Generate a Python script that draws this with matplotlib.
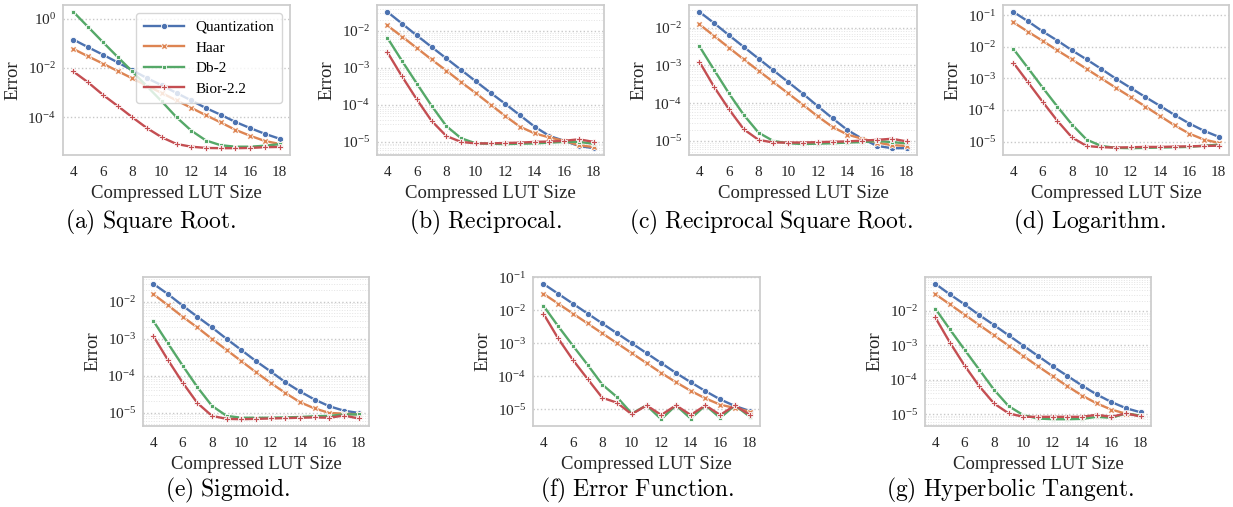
import numpy as np
import matplotlib
matplotlib.use("Agg")
import matplotlib.pyplot as plt
from matplotlib.ticker import LogLocator, NullLocator, FixedLocator, NullFormatter

plt.rcParams.update({
    "font.family": ["Liberation Serif", "DejaVu Serif"],
    "mathtext.fontset": "stix",
    "axes.edgecolor": "#cccccc",
    "axes.linewidth": 1.25,
    "xtick.major.size": 0,
    "ytick.major.size": 0,
    "xtick.minor.size": 0,
    "ytick.minor.size": 0,
    "xtick.color": "#262626",
    "ytick.color": "#262626",
})

# ---------------- data (values read as log10 of the error) ----------------
lut_size = [4, 5, 6, 7, 8, 9, 10, 11, 12, 13, 14, 15, 16, 17, 18]
methods = ["Quantization", "Haar", "Db-2", "Bior-2.2"]

sqrt_quant = [-0.85, -1.16, -1.46, -1.77, -2.09, -2.41, -2.70, -3.01, -3.31, -3.62, -3.89, -4.18, -4.43, -4.66, -4.86]
sqrt_haar = [-1.23, -1.53, -1.82, -2.12, -2.42, -2.72, -3.01, -3.31, -3.61, -3.91, -4.20, -4.50, -4.74, -4.95, -5.07]
sqrt_db2 = [0.27, -0.34, -0.95, -1.55, -2.14, -2.74, -3.35, -3.99, -4.53, -4.93, -5.12, -5.18, -5.18, -5.14, -5.08]
sqrt_bior = [-2.14, -2.58, -3.08, -3.53, -3.99, -4.43, -4.80, -5.07, -5.18, -5.23, -5.24, -5.24, -5.23, -5.20, -5.19]

recip_quant = [-1.48, -1.80, -2.12, -2.43, -2.74, -3.05, -3.36, -3.67, -3.97, -4.28, -4.59, -4.84, -4.97, -5.11, -5.17]
recip_haar = [-1.85, -2.15, -2.46, -2.77, -3.07, -3.38, -3.68, -3.99, -4.30, -4.59, -4.77, -4.88, -4.97, -5.09, -5.14]
recip_db2 = [-2.18, -2.81, -3.42, -4.02, -4.57, -4.90, -5.04, -5.05, -5.06, -5.05, -5.04, -5.02, -5.00, -5.00, -5.05]
recip_bior = [-2.57, -3.23, -3.85, -4.43, -4.84, -5.00, -5.04, -5.04, -5.03, -5.02, -5.00, -4.99, -4.97, -4.93, -5.00]

rsqrt_quant = [-1.58, -1.88, -2.20, -2.51, -2.82, -3.13, -3.44, -3.75, -4.08, -4.40, -4.71, -4.94, -5.13, -5.19, -5.19]
rsqrt_haar = [-1.91, -2.22, -2.53, -2.84, -3.14, -3.44, -3.74, -4.04, -4.35, -4.63, -4.83, -4.94, -5.04, -5.11, -5.13]
rsqrt_db2 = [-2.49, -3.12, -3.74, -4.31, -4.78, -5.00, -5.06, -5.08, -5.07, -5.06, -5.04, -5.03, -5.00, -5.03, -5.06]
rsqrt_bior = [-2.90, -3.57, -4.16, -4.69, -4.97, -5.04, -5.04, -5.04, -5.03, -5.02, -5.01, -4.99, -4.97, -4.94, -5.01]

log_quant = [-0.89, -1.19, -1.51, -1.80, -2.11, -2.40, -2.70, -3.01, -3.30, -3.59, -3.87, -4.16, -4.43, -4.66, -4.85]
log_haar = [-1.22, -1.52, -1.81, -2.11, -2.40, -2.70, -3.00, -3.30, -3.59, -3.89, -4.19, -4.49, -4.75, -4.94, -5.04]
log_db2 = [-2.06, -2.67, -3.29, -3.89, -4.46, -4.94, -5.14, -5.20, -5.21, -5.20, -5.19, -5.18, -5.17, -5.13, -5.10]
log_bior = [-2.50, -3.12, -3.74, -4.34, -4.87, -5.14, -5.18, -5.19, -5.18, -5.17, -5.17, -5.16, -5.15, -5.14, -5.13]

sigm_quant = [-1.52, -1.80, -2.11, -2.41, -2.70, -3.01, -3.31, -3.61, -3.89, -4.18, -4.43, -4.65, -4.83, -4.95, -5.01]
sigm_haar = [-1.80, -2.10, -2.41, -2.70, -3.01, -3.31, -3.61, -3.91, -4.20, -4.47, -4.72, -4.89, -5.01, -5.03, -5.05]
sigm_db2 = [-2.52, -3.13, -3.73, -4.31, -4.82, -5.09, -5.14, -5.14, -5.14, -5.13, -5.12, -5.10, -5.09, -5.05, -5.05]
sigm_bior = [-2.93, -3.58, -4.19, -4.74, -5.09, -5.17, -5.18, -5.17, -5.16, -5.15, -5.14, -5.13, -5.14, -5.08, -5.16]

erf_quant = [-1.20, -1.50, -1.80, -2.10, -2.40, -2.70, -3.00, -3.30, -3.60, -3.90, -4.18, -4.45, -4.70, -4.90, -5.05]
erf_haar = [-1.50, -1.80, -2.10, -2.40, -2.70, -3.00, -3.30, -3.60, -3.90, -4.18, -4.44, -4.67, -4.86, -4.96, -5.07]
erf_db2 = [-1.86, -2.48, -3.07, -3.65, -4.25, -4.63, -5.13, -4.88, -5.30, -4.88, -5.28, -4.88, -5.26, -4.88, -5.22]
erf_bior = [-2.10, -2.85, -3.50, -4.08, -4.65, -4.80, -5.15, -4.88, -5.17, -4.88, -5.17, -4.88, -5.17, -4.88, -5.17]

tanh_quant = [-1.21, -1.52, -1.81, -2.12, -2.41, -2.71, -3.01, -3.31, -3.61, -3.89, -4.17, -4.43, -4.65, -4.83, -4.95]
tanh_haar = [-1.51, -1.81, -2.11, -2.41, -2.71, -3.01, -3.31, -3.61, -3.90, -4.19, -4.46, -4.69, -4.87, -4.99, -5.05]
tanh_db2 = [-1.93, -2.54, -3.13, -3.71, -4.29, -4.77, -5.03, -5.13, -5.15, -5.15, -5.14, -5.08, -5.11, -4.98, -5.05]
tanh_bior = [-2.19, -2.92, -3.59, -4.19, -4.69, -4.98, -5.08, -5.08, -5.08, -5.08, -5.08, -5.02, -5.08, -4.98, -5.07]

captions = ["(a) Square Root.", "(b) Reciprocal.", "(c) Reciprocal Square Root.",
            "(d) Logarithm.", "(e) Sigmoid.", "(f) Error Function.", "(g) Hyperbolic Tangent."]
panel_series = [
    [sqrt_quant, sqrt_haar, sqrt_db2, sqrt_bior],
    [recip_quant, recip_haar, recip_db2, recip_bior],
    [rsqrt_quant, rsqrt_haar, rsqrt_db2, rsqrt_bior],
    [log_quant, log_haar, log_db2, log_bior],
    [sigm_quant, sigm_haar, sigm_db2, sigm_bior],
    [erf_quant, erf_haar, erf_db2, erf_bior],
    [tanh_quant, tanh_haar, tanh_db2, tanh_bior],
]
ytick_decades = [
    [0, -2, -4],
    [-2, -3, -4, -5],
    [-2, -3, -4, -5],
    [-1, -2, -3, -4, -5],
    [-2, -3, -4, -5],
    [-1, -2, -3, -4, -5],
    [-2, -3, -4, -5],
]
xticks = [4, 6, 8, 10, 12, 14, 16, 18]

# ---------------- style / layout ----------------
colors = ["#4C72B0", "#DD8452", "#55A868", "#C44E52"]
markers = ["o", "X", (4, 0, 45), "P"]
msizes = [4.5, 4.5, 4.5, 5]

W, H = 1233, 507
fig = plt.figure(figsize=(W / 100, H / 100), dpi=100)

# axes boxes in pixels: left, right, top, bottom
boxes = [
    (63, 290, 5, 155), (377, 604, 5, 155), (689, 917, 5, 155), (1003, 1229, 5, 155),
    (143, 369, 277, 426), (533, 760, 277, 426), (925, 1151, 277, 426),
]
caption_pos = [(150, 222), (485, 222), (771, 222), (1089, 222),
               (227, 490), (637, 490), (1010, 490)]

for i, (l, r, t, b) in enumerate(boxes):
    ax = fig.add_axes([l / W, (H - b) / H, (r - l) / W, (b - t) / H])
    ax.set_facecolor("white")
    for k, (vals, name) in enumerate(zip(panel_series[i], methods)):
        ax.plot(lut_size, np.power(10.0, vals), color=colors[k], lw=1.7,
                marker=markers[k], ms=msizes[k], mec="white", mew=0.6,
                label=name, zorder=3 + k)
    ax.set_yscale("log")
    ax.yaxis.set_major_locator(FixedLocator([10.0 ** e for e in ytick_decades[i]]))
    if i == 0:
        ax.yaxis.set_minor_locator(NullLocator())
    else:
        ax.yaxis.set_minor_locator(LogLocator(base=10, subs=np.arange(2, 10)))
    ax.yaxis.set_minor_formatter(NullFormatter())
    ax.set_xticks(xticks)
    ax.grid(which="major", axis="y", ls=":", lw=1.0, color="#c8c8c8")
    ax.grid(which="minor", axis="y", ls=":", lw=0.7, color="#e4e4e4")
    ax.grid(which="both", axis="x", visible=False)
    ax.set_axisbelow(True)
    ax.tick_params(axis="x", labelsize=11, pad=8)
    ax.tick_params(axis="y", labelsize=11, pad=5)
    ax.set_xlabel("Compressed LUT Size", fontsize=13.5, labelpad=4, color="#262626")
    ax.set_ylabel("Error", fontsize=13.5, labelpad=4, color="#262626")
    for s in ax.spines.values():
        s.set_color("#cccccc")
        s.set_linewidth(1.25)
    if i == 0:
        leg = ax.legend(loc="upper right", fontsize=11, frameon=True, framealpha=0.8,
                        edgecolor="#cccccc", borderpad=0.5, labelspacing=0.45,
                        handlelength=2.6)
    cx, cy = caption_pos[i]
    txt = captions[i].replace(" ", r"\ ")
    fig.text(cx / W, (H - cy) / H, r"$\mathrm{" + txt + "}$", ha="center", va="center",
             fontsize=17, math_fontfamily="cm", color="black")

fig.savefig("out.png", dpi=100)
